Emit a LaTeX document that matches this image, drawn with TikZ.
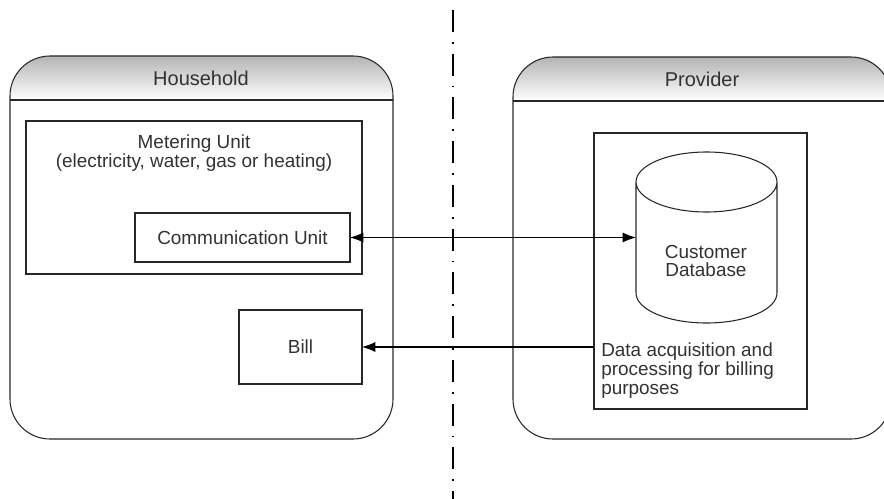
\documentclass[tikz,border=0pt]{standalone}
\usepackage{fontspec}
\setmainfont{Liberation Sans}
\usetikzlibrary{positioning, arrows.meta, backgrounds}
\definecolor{lineColor}{RGB}{40, 40, 40}
\definecolor{textColor}{RGB}{50, 50, 50}
\definecolor{headTop}{RGB}{180, 180, 180}
\tikzset{
    party_box/.style={
        draw=lineColor,
        line width=0.8pt,
        rounded corners=30pt,
        inner sep=0pt,
        outer sep=0pt
    },
    unit_box/.style={
        draw=lineColor,
        line width=0.8pt,
        inner sep=0pt,
        outer sep=0pt,
        text=textColor,
        font=\fontsize{14.2}{14}\selectfont
    },
    db_body/.style={
        inner sep=0pt,
        outer sep=0pt,
        minimum width=105.75pt,
        minimum height=128.25pt
    },
    db_line/.style={
        draw=lineColor,
        line width=0.8pt
    },
    head_band/.style={
        top color=headTop,
        bottom color=white
    },
    title_text/.style={
        text=textColor,
        inner sep=0pt,
        font=\fontsize{15}{15}\selectfont
    },
    body_text/.style={
        text=textColor,
        inner sep=0pt,
        align=center,
        font=\fontsize{14.2}{14}\selectfont
    },
    head_line/.style={
        draw=lineColor,
        line width=0.8pt
    },
    link_edge/.style={
        draw=black,
        line width=0.8pt,
        >={Latex[length=10pt, width=7.5pt]}
    },
    divider/.style={
        draw=black,
        line width=1.5pt,
        dash pattern=on 16.5pt off 7.5pt on 1.3pt off 7.5pt
    }
}

\begin{document}
\begin{tikzpicture}[x=0.75pt, y=-0.75pt]
    \useasboundingbox (0,0) rectangle (884,499);

    % household side
    \node[party_box, minimum width=287.25pt, minimum height=287.25pt] (hh) at (201.5,247.5) {};
    \node[title_text] (hhTitle) at (201,78) {Household};
    \node[unit_box, minimum width=252pt, minimum height=114.75pt] (meter) at (194,197.5) {};
    \node[body_text, anchor=north] (meterText) at (194,135) {Metering Unit\\(electricity, water, gas or heating)};
    \node[unit_box, minimum width=161.25pt, minimum height=36.75pt] (comm) at (242.5,237.5) {Communication Unit};
    \node[unit_box, minimum width=92.25pt, minimum height=55.5pt] (bill) at (300.5,347) {Bill};

    % provider side
    \node[party_box, minimum width=283.5pt, minimum height=286.5pt] (prov) at (702,248) {};
    \node[title_text] (provTitle) at (702,79) {Provider};
    \node[unit_box, minimum width=159.75pt, minimum height=207pt] (proc) at (700.5,271) {};
    \node[db_body] (db) at (706.5,237.5) {};
    \draw[db_line] ([yshift=-22.5pt]db.north west) -- ([yshift=22.5pt]db.south west)
        arc[start angle=180, end angle=360, x radius=52.875pt, y radius=22.5pt]
        -- ([yshift=-22.5pt]db.north east)
        arc[start angle=0, end angle=360, x radius=52.875pt, y radius=22.5pt];
    \node[body_text] (dbText) at (706,261) {Customer\\Database};
    \node[body_text, anchor=north west, align=left] (procText) at (601,343) {Data acquisition and\\processing for billing\\purposes};

    % header bands
    \begin{scope}[on background layer]
        \shade[head_band] (hh.west |- 0,100) [rounded corners=30pt] -- (hh.north west)
            -- (hh.north east) [sharp corners] -- (hh.east |- 0,100) -- cycle;
        \shade[head_band] (prov.west |- 0,101) [rounded corners=30pt] -- (prov.north west)
            -- (prov.north east) [sharp corners] -- (prov.east |- 0,101) -- cycle;
    \end{scope}
    \draw[head_line] (hh.west |- 0,100) -- (hh.east |- 0,100);
    \draw[head_line] (prov.west |- 0,101) -- (prov.east |- 0,101);

    % divider
    \coordinate (divTop) at (453,10);
    \coordinate (divBot) at (453,499);
    \draw[divider] (divTop) -- (divBot);

    % links
    \draw[link_edge, <->] (comm.east) -- (db.west);
    \draw[link_edge, ->] (bill.east -| proc.west) -- (bill.east);
\end{tikzpicture}
\end{document}
